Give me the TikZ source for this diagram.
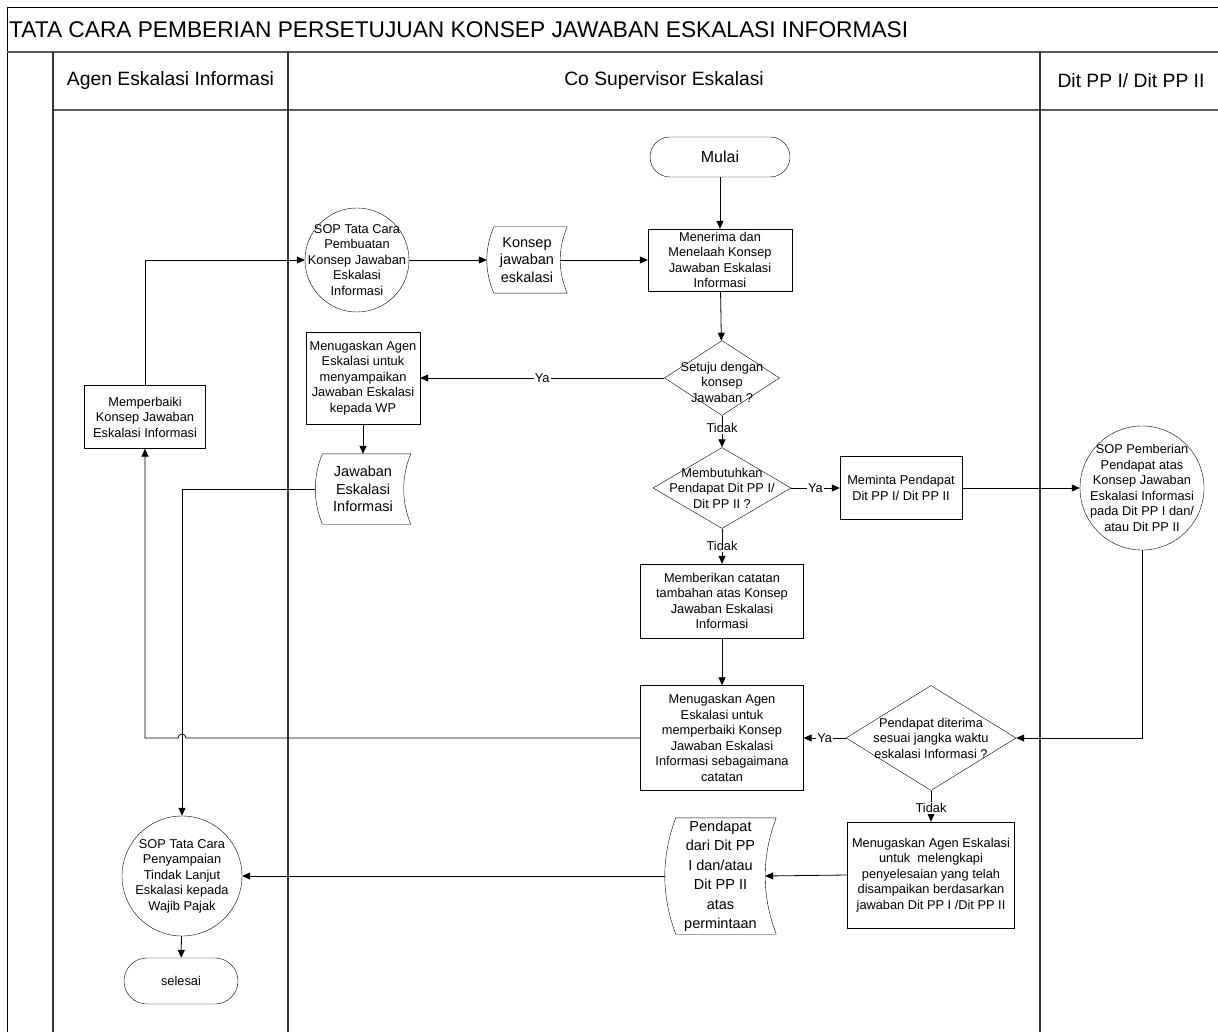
\documentclass[tikz,border=0pt]{standalone}
\usepackage{fontspec}
\setmainfont{Liberation Sans}
\usetikzlibrary{positioning,arrows.meta,shapes.geometric,calc}

\newcommand{\bodyfont}{\fontsize{12.8}{15.5}\selectfont}
\newcommand{\docfont}{\fontsize{14.5}{17.3}\selectfont}
\newcommand{\headfont}{\fontsize{19.3}{22}\selectfont}
\newcommand{\titlefont}{\fontsize{22.7}{26}\selectfont}
% outline of a stored-data sheet round a node: #1 node, #2 bulge
\newcommand{\storeshape}[2]{%
  \draw ([xshift=#2]#1.north west)
    .. controls ($(#1.north west)!0.333!(#1.south west)+(-#2/3,0)$) and ($(#1.north west)!0.667!(#1.south west)+(-#2/3,0)$)
    .. ([xshift=#2]#1.south west) -- (#1.south east)
    .. controls ($(#1.south east)!0.333!(#1.north east)+(-4*#2/3,0)$) and ($(#1.south east)!0.667!(#1.north east)+(-4*#2/3,0)$)
    .. (#1.north east) -- cycle;}

\begin{document}
\begin{tikzpicture}[x=1pt,y=-1pt,
  lane/.style={draw=black!80, line width=1.6pt},
  band/.style={draw=black!65, line width=2.2pt},
  box/.style={draw, rectangle, inner sep=0pt, align=center, font=\bodyfont},
  term/.style={draw, rectangle, rounded corners=20pt, inner sep=0pt, font=\bodyfont},
  decision/.style={draw, diamond, inner sep=0pt},
  sop/.style={draw, circle, inner sep=0pt},
  store/.style={inner sep=0pt, align=center, font=\docfont},
  intext/.style={align=center, font=\bodyfont, inner sep=0pt},
  lbl/.style={fill=white, inner sep=1pt, font=\bodyfont},
  flow/.style={-{Triangle[length=8pt,width=7pt]}, line width=0.8pt}]

\useasboundingbox (0,0) rectangle (1218,1032);
\clip (0,0) rectangle (1218,1032);

% frame and lanes
\draw[line width=1pt] (7,1040) -- (7,8) -- (1230,8);
\draw[band] (7,52) -- (1230,52);
\draw[band] (53,110) -- (1230,110);
\draw[lane] (53,52) -- (53,1040);
\draw[lane] (288,52) -- (288,1040);
\draw[lane] (1040,52) -- (1040,1040);

\node[anchor=west, font=\titlefont, inner sep=0pt] (judul) at (9,30) {TATA CARA PEMBERIAN PERSETUJUAN KONSEP JAWABAN ESKALASI INFORMASI};
\node[font=\headfont] (hAgen) at (170.5,81) {Agen Eskalasi Informasi};
\node[font=\headfont] (hCo) at (664,81) {Co Supervisor Eskalasi};
\node[font=\headfont] (hDit) at (1131,81) {Dit PP I/ Dit PP II};

% Co Supervisor lane
\node[term, minimum width=140, minimum height=40, font=\fontsize{16}{18}\selectfont] (mulai) at (720,157) {Mulai};
\node[box, minimum width=144, minimum height=62] (terima) at (720,260) {Menerima dan\\Menelaah Konsep\\Jawaban Eskalasi\\Informasi};
\node[sop, minimum size=104, label={[intext]center:SOP Tata Cara\\Pembuatan\\Konsep Jawaban\\Eskalasi\\Informasi}] (sopBuat) at (357,260) {};
\node[store, minimum width=80, minimum height=66] (konsep) at (527,260) {Konsep\\jawaban\\eskalasi};
\node[decision, minimum width=115, minimum height=75, label={[intext, yshift=-4pt]center:Setuju dengan\\konsep\\Jawaban ?}] (setuju) at (722,378) {};
\node[box, minimum width=114, minimum height=92] (tugasWP) at (363,378) {Menugaskan Agen\\Eskalasi untuk\\menyampaikan\\Jawaban Eskalasi\\kepada WP};
\node[store, minimum width=95, minimum height=70] (jawaban) at (363,489) {Jawaban\\Eskalasi\\Informasi};
\node[decision, minimum width=138, minimum height=81, label={[intext]center:Membutuhkan\\Pendapat Dit PP I/\\Dit PP II ?}] (butuh) at (722,488) {};
\node[box, minimum width=122, minimum height=63] (minta) at (901,488) {Meminta Pendapat\\Dit PP I/ Dit PP II};
\node[box, minimum width=163, minimum height=74] (catatan) at (722,601) {Memberikan catatan\\tambahan atas Konsep\\Jawaban Eskalasi\\Informasi};
\node[box, minimum width=163, minimum height=105] (tugasPerbaiki) at (722,738) {Menugaskan Agen\\Eskalasi untuk\\memperbaiki Konsep\\Jawaban Eskalasi\\Informasi sebagaimana\\catatan};
\node[decision, minimum width=170, minimum height=105, label={[intext]center:Pendapat diterima\\sesuai jangka waktu\\eskalasi Informasi ?}] (diterima) at (931,738) {};
\node[box, minimum width=167, minimum height=106] (tugasLengkapi) at (931,875) {Menugaskan Agen Eskalasi\\untuk~ melengkapi\\penyelesaian yang telah\\disampaikan berdasarkan\\jawaban Dit PP I /Dit PP II};
\node[store, minimum width=111, minimum height=116, font=\fontsize{14.5}{19.5}\selectfont] (pendapat) at (720.5,876) {Pendapat\\dari Dit PP\\I dan/atau\\Dit PP II\\atas\\permintaan};

% Dit PP lane
\node[sop, minimum size=124, label={[intext]center:SOP Pemberian\\Pendapat atas\\Konsep Jawaban\\Eskalasi Informasi\\pada Dit PP I dan/\\atau Dit PP II}] (sopBeri) at (1142,488) {};

% Agen lane
\node[box, minimum width=121, minimum height=63] (perbaikiAgen) at (145,417) {Memperbaiki\\Konsep Jawaban\\Eskalasi Informasi};
\node[sop, minimum size=120, label={[intext]center:SOP Tata Cara\\Penyampaian\\Tindak Lanjut\\Eskalasi kepada\\Wajib Pajak}] (sopSampai) at (182,876) {};
\node[term, minimum width=114, minimum height=46, rounded corners=23pt] (selesai) at (181,981) {selesai};

\storeshape{konsep}{7}
\storeshape{jawaban}{7}
\storeshape{pendapat}{11}

\draw[flow] (mulai) -- (terima);
\draw[flow] (perbaikiAgen.north) |- (sopBuat.west);
\draw[flow] (sopBuat) -- (konsep);
\draw[flow] ([xshift=-7]konsep.east) -- (terima.west);
\draw[flow] (terima) -- (setuju);
\draw[flow] (setuju) -- node[lbl]{Ya} (tugasWP);
\draw[flow] (setuju) -- node[lbl, pos=0.4]{Tidak} (butuh);
\draw[flow] (tugasWP) -- (jawaban);
\draw[flow] (jawaban.west) -| (sopSampai.north);
\draw[flow] (butuh) -- node[lbl]{Ya} (minta);
\draw[flow] (minta) -- (sopBeri);
\draw[flow] (butuh) -- node[lbl]{Tidak} (catatan);
\draw[flow] (catatan) -- (tugasPerbaiki);
\draw[flow] (sopBeri.south) |- (diterima.east);
\draw[flow] (diterima) -- node[lbl]{Ya} (tugasPerbaiki);
\draw[flow] (tugasPerbaiki.west) -- ($(sopSampai.north |- tugasPerbaiki.west)+(4,0)$) arc[start angle=0, end angle=180, radius=4pt] -| (perbaikiAgen.south);
\draw[flow] (diterima) -- node[lbl, pos=0.55]{Tidak} (tugasLengkapi);
\draw[flow] (tugasLengkapi.west) -- ([xshift=-11]pendapat.east);
\draw[flow] (pendapat.west) -- (sopSampai.east);
\draw[flow] (sopSampai) -- (selesai);
\end{tikzpicture}
\end{document}
